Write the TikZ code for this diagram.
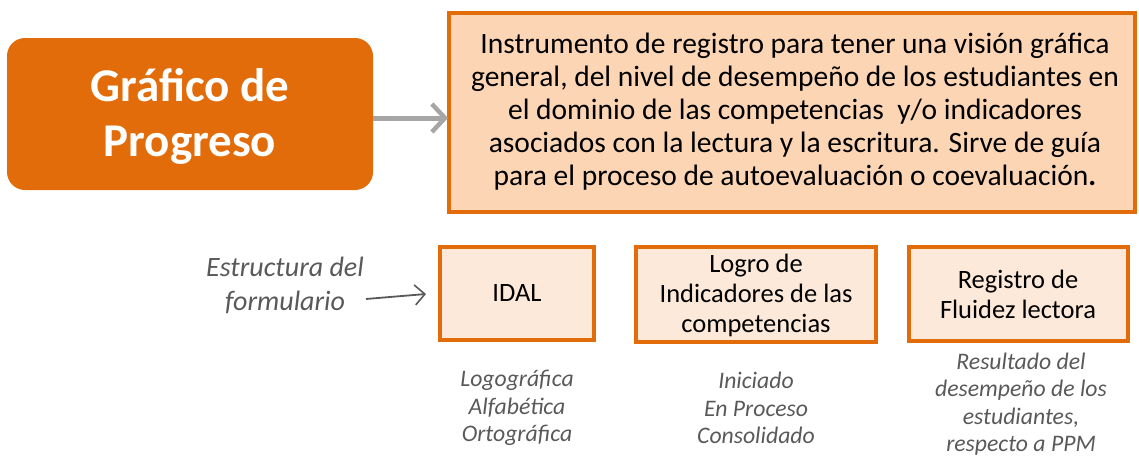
\documentclass[tikz,border=0pt]{standalone}
\usepackage{fontspec}
\setmainfont{Carlito}
\usetikzlibrary{arrows.meta}
\definecolor{orng}{HTML}{E36C0A}
\definecolor{peach}{HTML}{FCD5B5}
\definecolor{lpeach}{HTML}{FDE9D9}
\definecolor{garrow}{HTML}{A6A6A6}
\definecolor{gtext}{HTML}{595959}
\tikzset{
  x=1pt,y=-1pt,
  titlebox/.style={fill=orng,draw=none,rounded corners=18pt},
  titletext/.style={text=white,font=\fontsize{47}{55}\selectfont\bfseries,align=center},
  descbox/.style={fill=peach,draw=orng,line width=4pt},
  desctext/.style={font=\fontsize{29.5}{33}\selectfont,align=center},
  itembox/.style={fill=lpeach,draw=orng,line width=4.5pt},
  itemtext/.style={font=\fontsize{26.5}{30}\selectfont,align=center},
  note/.style={text=gtext,font=\fontsize{23.7}{27.5}\selectfont\itshape,align=center},
  bigarrow/.style={draw=garrow,line width=5pt,-{Straight Barb[length=13pt,width=28pt,line width=4.5pt]}},
  smallarrow/.style={draw=gtext,line width=1.8pt,-{Straight Barb[length=10pt,width=20pt,line width=1.6pt]}}
}
\begin{document}
\begin{tikzpicture}
\useasboundingbox (0,0) rectangle (1139,458);
\path[titlebox] (7,38) rectangle (373,190);
\node[titletext] (title) at (190,116) {Gráfico de\\Progreso};
\coordinate (tr) at (373,118);
\path[descbox] (449,13) rectangle (1135,212);
\node[desctext] (desc) at (795,112) {Instrumento de registro para tener una visión gráfica\\general, del nivel de desempeño de los estudiantes en\\el dominio de las competencias\ \ y/o indicadores\\asociados con la lectura y la escritura. Sirve de guía\\para el proceso de autoevaluación o coevaluación\textbf{.}};
\coordinate (dl) at (448,118);
\draw[bigarrow] (tr) -- (dl);

\path[itembox] (440,247) rectangle (594,340);
\node[itemtext] (idal) at (517,293) {IDAL};
\path[itembox] (636,247) rectangle (876,342);
\node[itemtext] (logro) at (756,295) {Logro de\\Indicadores de las\\competencias};
\path[itembox] (909,247) rectangle (1128,341);
\node[itemtext] (reg) at (1018,294) {Registro de\\Fluidez lectora};

\node[note,font=\fontsize{28}{34}\selectfont\itshape] (estr) at (285,285) {Estructura del\\formulario};
\coordinate (ea) at (366,299);
\coordinate (eb) at (426,294);
\draw[smallarrow] (ea) -- (eb);

\node[note] (n1) at (517,408) {Logográfica\\Alfabética\\Ortográfica};
\node[note] (n2) at (756,408) {Iniciado\\En Proceso\\Consolidado};
\node[note] (n3) at (1021,404) {Resultado del\\desempeño de los\\estudiantes,\\respecto a PPM};
\end{tikzpicture}
\end{document}
